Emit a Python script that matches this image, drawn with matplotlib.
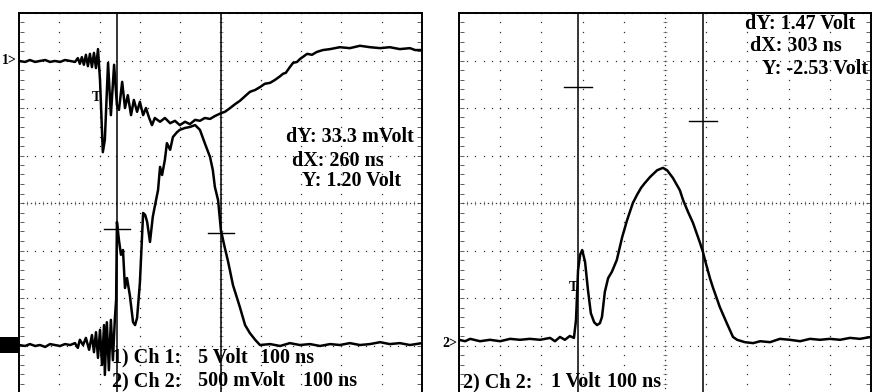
import numpy as np
import matplotlib
matplotlib.use("Agg")
import matplotlib.pyplot as plt
from matplotlib.patches import Rectangle
from matplotlib.transforms import blended_transform_factory

# ---- data: time in ns (100 ns/div), level in screen divisions (0..8) ----
# left screen, channel 1 (5 Volt/div)
left_ch1_t = [0, 15, 27, 40, 52, 65, 77, 89, 102, 114, 127, 139, 146, 151, 156, 161, 166, 171,
              176, 181, 186, 191, 196, 201, 208, 213, 221, 228, 236, 243, 248, 256, 263, 270,
              278, 285, 293, 300, 308, 315, 323, 330, 337, 350, 362, 375, 387, 399, 412, 424,
              437, 449, 461, 474, 486, 501, 511, 524, 536, 548, 561, 573, 586, 598, 610, 623,
              635, 648, 655, 662, 672, 680, 690, 697, 715, 727, 739, 754, 772, 796, 821, 846,
              871, 896, 920, 945, 970, 983, 1000]
left_ch1_v = [6.99, 6.97, 7.01, 6.97, 6.99, 7.01, 6.97, 6.99, 6.97, 7.01, 6.99, 6.97, 7.05, 6.93,
              7.07, 6.91, 7.12, 6.88, 7.14, 6.86, 7.16, 6.84, 7.24, 6.59, 5.07, 5.33, 6.95, 5.85,
              6.91, 6.06, 5.96, 6.55, 6.00, 6.27, 5.85, 6.17, 5.92, 6.13, 5.85, 6.00, 5.79, 5.64,
              5.79, 5.71, 5.79, 5.68, 5.73, 5.64, 5.71, 5.66, 5.75, 5.73, 5.79, 5.77, 5.83, 5.89,
              5.92, 6.00, 6.08, 6.15, 6.25, 6.34, 6.38, 6.44, 6.51, 6.53, 6.59, 6.67, 6.72, 6.74,
              6.86, 6.95, 6.97, 7.03, 7.14, 7.12, 7.18, 7.22, 7.24, 7.28, 7.26, 7.31, 7.28, 7.26,
              7.28, 7.24, 7.26, 7.22, 7.22]

# left screen, channel 2 (500 mVolt/div)
left_ch2_t = [0, 15, 27, 40, 52, 65, 77, 89, 102, 114, 127, 139, 146, 151, 159, 166, 174, 181,
              186, 191, 196, 201, 206, 211, 213, 218, 223, 228, 233, 238, 241, 243, 248, 253,
              258, 263, 268, 275, 283, 288, 293, 300, 308, 313, 318, 325, 332, 340, 345, 350,
              355, 362, 367, 375, 382, 392, 399, 412, 424, 437, 449, 461, 474, 481, 486, 494,
              501, 509, 519, 531, 541, 548, 561, 573, 586, 598, 623, 648, 672, 697, 722, 747,
              772, 796, 821, 846, 871, 896, 920, 945, 970, 1000]
left_ch2_v = [1.01, 0.99, 1.03, 0.99, 1.01, 0.97, 1.03, 1.01, 0.99, 1.03, 1.01, 1.05, 0.95, 1.12,
              1.01, 1.16, 0.91, 1.22, 0.86, 1.28, 0.74, 1.33, 0.59, 1.43, 0.38, 1.49, 0.48, 1.54,
              0.69, 1.58, 1.96, 3.60, 3.22, 2.91, 3.01, 2.21, 2.42, 2.06, 1.49, 1.43, 1.58, 2.32,
              3.79, 3.75, 3.60, 3.18, 3.71, 4.06, 4.27, 4.76, 4.59, 4.91, 5.26, 5.12, 5.39, 5.49,
              5.54, 5.58, 5.60, 5.64, 5.54, 5.26, 4.97, 4.69, 4.34, 4.06, 3.43, 3.12, 2.76, 2.27,
              2.00, 1.81, 1.43, 1.26, 1.12, 1.01, 1.03, 0.99, 1.05, 1.01, 1.03, 0.99, 1.03, 1.01,
              1.05, 1.01, 1.03, 1.07, 1.03, 1.05, 1.01, 1.05]

# right screen, channel 2 (1 Volt/div)
right_ch2_t = [0, 15, 27, 51, 75, 100, 124, 148, 172, 197, 221, 233, 245, 257, 269, 279, 284,
               289, 294, 299, 306, 313, 320, 328, 335, 342, 347, 354, 362, 371, 383, 396, 408,
               422, 432, 442, 451, 464, 481, 495, 505, 519, 536, 544, 556, 568, 585, 592, 597,
               609, 616, 633, 650, 665, 675, 694, 714, 731, 755, 779, 803, 828, 852, 876, 900,
               925, 949, 973, 1000]
right_ch2_v = [1.12, 1.09, 1.14, 1.09, 1.12, 1.09, 1.14, 1.12, 1.14, 1.12, 1.16, 1.09, 1.18,
               1.12, 1.20, 1.16, 1.54, 2.59, 2.91, 3.01, 2.76, 2.17, 1.68, 1.49, 1.43, 1.47,
               1.60, 2.13, 2.42, 2.55, 2.80, 3.28, 3.64, 4.00, 4.17, 4.32, 4.42, 4.55, 4.69,
               4.74, 4.69, 4.53, 4.27, 4.06, 3.81, 3.58, 3.16, 2.97, 2.80, 2.42, 2.23, 1.81,
               1.47, 1.18, 1.12, 1.07, 1.05, 1.09, 1.07, 1.14, 1.12, 1.09, 1.14, 1.12, 1.14,
               1.12, 1.16, 1.14, 1.18]

# cursors: (time ns, level div)
left_cursors = [(243, 3.45), (501, 3.37)]
right_cursors = [(289, 6.44), (592, 5.73)]

left_readout = ["dY: 33.3 mVolt", "dX: 260 ns", "Y: 1.20 Volt"]
right_readout = ["dY: 1.47 Volt", "dX: 303 ns", "Y: -2.53 Volt"]

SERIF = "Liberation Serif"


def draw_grid(ax):
    cols = np.arange(0, 1001, 100)
    rows = np.arange(0, 8.01, 1)
    xs = np.arange(0, 1001, 20)
    ys = np.arange(0, 8.01, 0.2)
    for r in rows:
        if r == 4:
            continue
        ax.plot(xs, np.full(len(xs), r), ls="none", marker="s", ms=0.9, color="#333333", mew=0)
    for c in cols:
        if c == 500:
            continue
        ax.plot(np.full(len(ys), c), ys, ls="none", marker="s", ms=0.9, color="#333333", mew=0)
    # center axes with finer ticks
    xs_f = np.arange(0, 1001, 10)
    ys_f = np.arange(0, 8.01, 0.1)
    ax.plot(xs_f, np.full(len(xs_f), 4), ls="none", marker="s", ms=0.9, mew=0, color="#333333")
    ax.plot(xs, np.full(len(xs), 4), ls="none", marker="|", ms=2.5, mew=0.5, color="#666666")
    ax.plot(np.full(len(ys_f), 500), ys_f, ls="none", marker="s", ms=0.9, mew=0, color="#333333")
    ax.plot(np.full(len(ys), 500), ys, ls="none", marker="_", ms=2.5, mew=0.5, color="#666666")
    # edge ticks
    ax.plot(np.full(len(ys), 8), ys, ls="none", marker="_", ms=3, mew=0.6, color="#444444")
    ax.plot(np.full(len(ys), 992), ys, ls="none", marker="_", ms=3, mew=0.6, color="#444444")


def draw_cursors(ax, cursors):
    for t, v in cursors:
        ax.axvline(t, color="black", lw=1.1, zorder=3)
        ax.plot([t - 33, t + 33], [v, v], color="black", lw=1.0, zorder=3)


def setup(ax):
    ax.set_xlim(0, 1000)
    ax.set_ylim(0, 8)
    ax.set_xticks([])
    ax.set_yticks([])
    for s in ["left", "right", "top"]:
        ax.spines[s].set_linewidth(1.4)
    ax.spines["bottom"].set_visible(False)


fig = plt.figure(figsize=(8.72, 3.92), dpi=100)
ax1 = fig.add_axes([19 / 872, -1 / 392, 403 / 872, 380 / 392])
ax2 = fig.add_axes([459 / 872, -1 / 392, 412 / 872, 380 / 392])

for ax in (ax1, ax2):
    setup(ax)
    draw_grid(ax)

draw_cursors(ax1, left_cursors)
draw_cursors(ax2, right_cursors)

ax1.plot(left_ch1_t, left_ch1_v, color="black", lw=1.8, zorder=4)
ax1.plot(left_ch2_t, left_ch2_v, color="black", lw=1.8, zorder=4)
ax2.plot(right_ch2_t, right_ch2_v, color="black", lw=1.8, zorder=4)

tkw = dict(family=SERIF, fontweight="bold", fontsize=14.5, va="center", ha="left", zorder=5)

# cursor readouts
for (x, y), s in zip([(662, 5.39), (677, 4.88), (702, 4.46)], left_readout):
    ax1.text(x, y, s, **tkw)
for (x, y), s in zip([(694, 7.77), (706, 7.31), (735, 6.82)], right_readout):
    ax2.text(x, y, s, clip_on=True, **tkw)

# channel settings
ax1.text(231, 0.74, "1) Ch 1:", **tkw)
ax1.text(444, 0.74, "5 Volt", **tkw)
ax1.text(598, 0.74, "100 ns", **tkw)
ax1.text(231, 0.25, "2) Ch 2:", **tkw)
ax1.text(444, 0.25, "500 mVolt", **tkw)
ax1.text(705, 0.25, "100 ns", **tkw)
ax2.text(10, 0.23, "2) Ch 2:", **tkw)
ax2.text(223, 0.23, "1 Volt", **tkw)
ax2.text(359, 0.23, "100 ns", **tkw)

# trigger marks
ax1.text(193, 6.23, "T", family=SERIF, fontweight="bold", fontsize=10, ha="center", va="center", zorder=5)
ax2.text(277, 2.23, "T", family=SERIF, fontweight="bold", fontsize=10, ha="center", va="center", zorder=5)

# channel position markers
tr1 = blended_transform_factory(ax1.transAxes, ax1.transData)
ax1.text(-0.006, left_ch1_v[0], "1>", transform=tr1, family=SERIF, fontweight="bold",
         fontsize=10, ha="right", va="center", clip_on=False)
trf = blended_transform_factory(fig.transFigure, ax1.transData)
fig.add_artist(Rectangle((0, left_ch2_v[0] - 0.17), 19 / 872, 0.34, transform=trf,
                         color="black", lw=0))
tr2 = blended_transform_factory(ax2.transAxes, ax2.transData)
ax2.text(-0.004, right_ch2_v[0] - 0.08, "2>", transform=tr2, family=SERIF, fontweight="bold",
         fontsize=10, ha="right", va="center", clip_on=False)

fig.savefig("out.png", dpi=100)
